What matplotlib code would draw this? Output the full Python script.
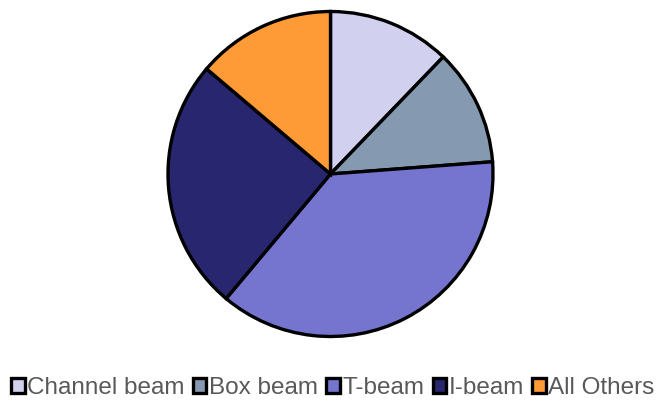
import matplotlib
matplotlib.use("Agg")
import matplotlib.pyplot as plt
from matplotlib.patches import Patch

categories = ["Channel beam", "Box beam", "T-beam", "I-beam", "All Others"]
shares = [12.2, 11.6, 37.3, 25.1, 13.8]
colors = ["#D1D1EF", "#8599B0", "#7575CF", "#27266F", "#FF9B36"]

plt.rcParams["font.family"] = ["Liberation Sans", "DejaVu Sans"]

W, H = 659, 401
fig = plt.figure(figsize=(W / 100, H / 100), dpi=100)
ax = fig.add_axes([0, 0, 1, 1])

# pie laid out in pixel units (origin bottom-left)
cx, cy, r = 330.5, H - 174.0, 162.5
ax.pie(shares, colors=colors, startangle=90, counterclock=False,
       center=(cx, cy), radius=r, frame=True,
       wedgeprops=dict(edgecolor="black", linewidth=2.4))
ax.set_xlim(0, W)
ax.set_ylim(0, H)
ax.set_aspect("equal")
ax.axis("off")

handles = [Patch(facecolor=c, edgecolor="black", linewidth=2.4) for c in colors]
fig.legend(handles, categories, loc="center", bbox_to_anchor=(0.505, 1 - 388 / H),
           ncol=5, frameon=False, fontsize=17.5, handlelength=0.55, handleheight=0.55,
           handletextpad=0.1, columnspacing=0.35, labelcolor="#595959")

fig.savefig("out.png", dpi=100)
